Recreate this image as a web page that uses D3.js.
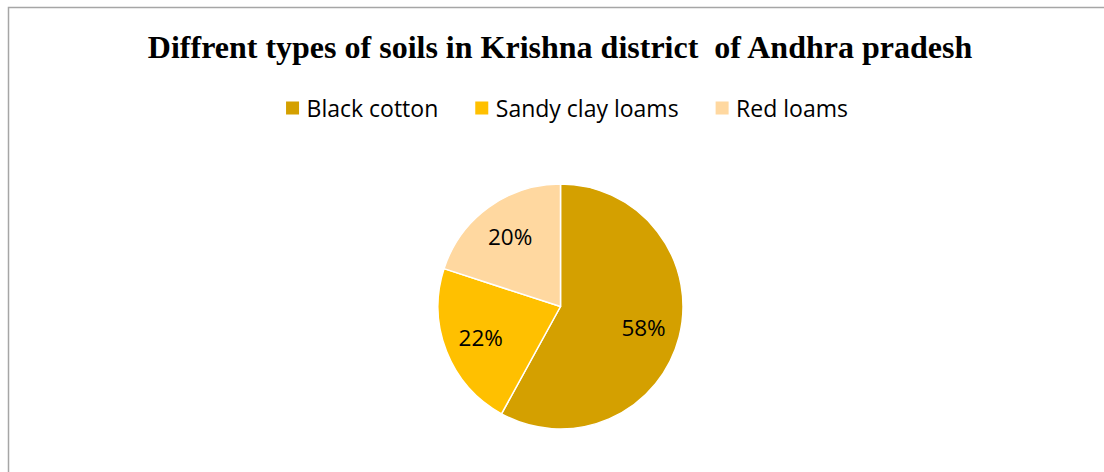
<!DOCTYPE html>
<html>
<head>
<meta charset="utf-8">
<script src="https://cdn.jsdelivr.net/npm/d3@7"></script>
<style>
  html, body { margin: 0; padding: 0; background: #fff; }
  svg { display: block; }
</style>
</head>
<body>
<svg id="chart" width="1104" height="472"></svg>
<script>
const title = "Diffrent types of soils in Krishna district\u00a0\u00a0of Andhra pradesh";
const categories = ["Black cotton", "Sandy clay loams", "Red loams"];
const values = [58, 22, 20];
const colors = ["#D4A000", "#FFC000", "#FFD8A0"];

const W = 1104, H = 472;
const svg = d3.select("#chart");

// chart border (cropped at right and bottom)
svg.append("rect")
  .attr("x", 8.5).attr("y", 7.5)
  .attr("width", W + 20).attr("height", H + 20)
  .attr("fill", "#fff").attr("stroke", "#A6A6A6").attr("stroke-width", 1.5);

// title
svg.append("text")
  .attr("x", 560).attr("y", 58)
  .attr("text-anchor", "middle")
  .attr("font-family", "'Liberation Serif', 'Times New Roman', serif")
  .attr("font-weight", "bold")
  .attr("font-size", 32)
  .attr("fill", "#000")
  .text(title);

// legend
const sansFont = "'Open Sans', 'Noto Sans', sans-serif";
const legend = svg.append("g");
const items = legend.selectAll("g").data(categories).join("g");
items.append("rect")
  .attr("width", 13).attr("height", 13)
  .attr("y", -15.5)
  .attr("fill", (d, i) => colors[i]);
items.append("text")
  .attr("x", 20.5).attr("y", 0)
  .attr("font-family", sansFont)
  .attr("font-size", 23)
  .attr("fill", "#000")
  .text(d => d);
let xPos = 0;
items.each(function () {
  const g = d3.select(this);
  g.attr("transform", `translate(${xPos},0)`);
  xPos += 20.5 + g.select("text").node().getComputedTextLength() + 37;
});
const legendWidth = xPos - 37;
legend.attr("transform", `translate(${567 - legendWidth / 2},117)`);

// pie
const cx = 560.5, cy = 306.5, r = 122.5;
const pie = d3.pie().sort(null).value(d => d)(values);
const arc = d3.arc().innerRadius(0).outerRadius(r);
const labelArc = d3.arc().innerRadius(0).outerRadius(r * 1.4);
const g = svg.append("g").attr("transform", `translate(${cx},${cy})`);
g.selectAll("path").data(pie).join("path")
  .attr("d", arc)
  .attr("fill", (d, i) => colors[i])
  .attr("stroke", "#fff")
  .attr("stroke-width", 1.5)
  .attr("stroke-linejoin", "round");
g.selectAll("text").data(pie).join("text")
  .attr("transform", d => `translate(${labelArc.centroid(d)})`)
  .attr("text-anchor", "middle")
  .attr("dy", "0.36em")
  .attr("font-family", sansFont)
  .attr("font-size", 22.5)
  .attr("fill", "#000")
  .text(d => d.data + "%");
</script>
</body>
</html>
